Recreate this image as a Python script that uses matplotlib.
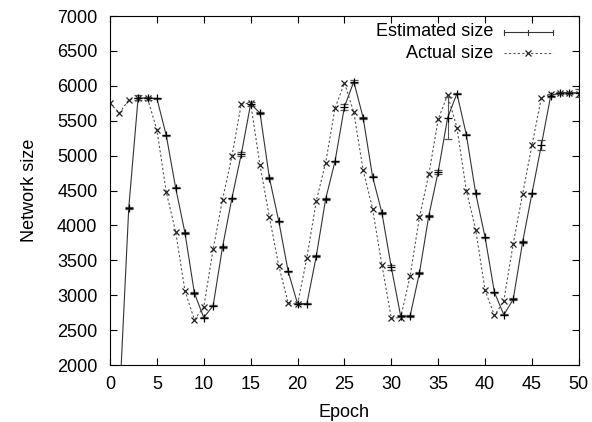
import matplotlib
matplotlib.use("Agg")
import matplotlib.pyplot as plt
from matplotlib.lines import Line2D
import numpy as np

plt.rcParams['font.family'] = ['Liberation Sans', 'DejaVu Sans']

epochs = list(range(0, 51))
estimated = [1000, 1450, 4250, 5830, 5820, 5820, 5290, 4540, 3890, 3030,
             2680, 2850, 3690, 4390, 5020, 5740, 5610, 4680, 4060, 3340,
             2880, 2880, 3560, 4380, 4920, 5700, 6060, 5540, 4700, 4180,
             3400, 2700, 2700, 3320, 4140, 4770, 5540, 5890, 5300, 4460,
             3830, 3040, 2720, 2940, 3760, 4460, 5150, 5860, 5900, 5900, 5900]
estimated_err = [0, 0, 15, 40, 20, 10, 10, 10, 10, 10,
                 10, 10, 10, 10, 25, 30, 10, 20, 10, 10,
                 10, 10, 10, 10, 10, 40, 20, 10, 10, 10,
                 40, 10, 10, 10, 15, 30, 300, 10, 10, 10,
                 10, 10, 10, 15, 10, 10, 70, 20, 15, 15, 60]
actual = [5750, 5610, 5800, 5830, 5820, 5370, 4480, 3910, 3060, 2650,
          2830, 3660, 4370, 4990, 5740, 5750, 4860, 4120, 3420, 2890,
          2870, 3540, 4350, 4900, 5680, 6040, 5620, 4790, 4240, 3430,
          2670, 2680, 3270, 4120, 4730, 5520, 5870, 5400, 4500, 3940,
          3070, 2710, 2920, 3740, 4450, 5150, 5830, 5880, 5900, 5900, 5890]

fig = plt.figure(figsize=(5.92, 4.22), dpi=100)
ax = fig.add_axes([0.1858, 0.135, 0.792, 0.827])

ax.errorbar(epochs, estimated, yerr=estimated_err, color='#333333', lw=0.8,
            marker='+', ms=6, mew=0.9, mec='black', ecolor='#555555',
            elinewidth=0.8, capsize=3, capthick=0.8, zorder=3)
ax.plot(epochs, actual, color='#555555', lw=0.8, ls=(0, (2, 2)),
        marker='x', ms=5, mew=0.9, mec='#222222', zorder=2)

ax.set_xlim(0, 50)
ax.set_ylim(2000, 7000)
ax.set_xticks(range(0, 51, 5))
ax.set_yticks(range(2000, 7001, 500))
ax.tick_params(direction='in', length=5, width=0.8, top=True, right=True,
               labelsize=13)
ax.tick_params(axis='x', pad=8)
ax.tick_params(axis='y', pad=9)
for s in ax.spines.values():
    s.set_linewidth(0.8)
ax.set_xlabel('Epoch', fontsize=13, labelpad=8)
ax.set_ylabel('Network size', fontsize=13, labelpad=14)

# gnuplot-style legend (text right-aligned, sample on the right)
tr = ax.transAxes
ax.text(0.818, 0.955, 'Estimated size', transform=tr, ha='right', va='center', fontsize=13)
ax.text(0.818, 0.893, 'Actual size', transform=tr, ha='right', va='center', fontsize=13)
x0, x1 = 0.84, 0.945
ax.add_line(Line2D([x0, x1], [0.953, 0.953], transform=tr, color='#333333', lw=0.8))
for xx in (x0, x1):
    ax.add_line(Line2D([xx, xx], [0.945, 0.961], transform=tr, color='#333333', lw=0.8))
ax.add_line(Line2D([(x0 + x1) / 2] * 2, [0.945, 0.961], transform=tr, color='#333333', lw=0.8))
ax.add_line(Line2D([x0, x1], [0.893, 0.893], transform=tr, color='#555555', lw=0.8,
                   ls=(0, (2, 2))))
ax.add_line(Line2D([(x0 + x1) / 2], [0.893], transform=tr, marker='x', ms=5, mew=0.9,
                   color='#222222', ls='none'))

fig.savefig('out.png', dpi=100)
